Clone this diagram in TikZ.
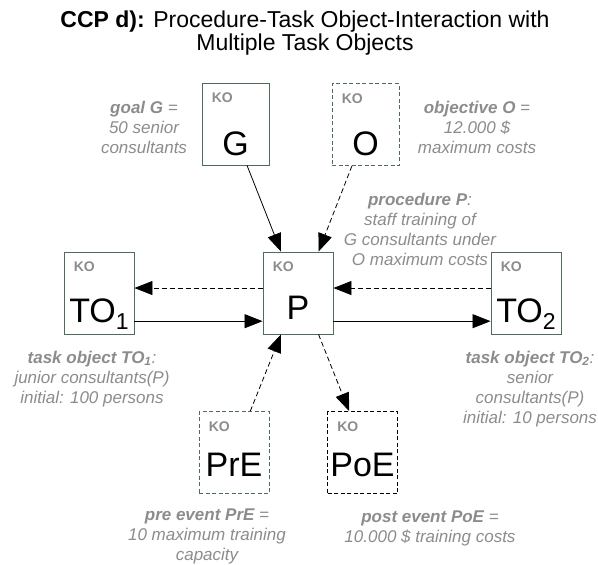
\documentclass[tikz,border=0pt]{standalone}
\usepackage{fontspec}
\setmainfont{Liberation Sans}
\usetikzlibrary{arrows.meta,calc}
\definecolor{kobox}{RGB}{78,108,88}
\definecolor{notegray}{RGB}{140,140,140}

\begin{document}
\begin{tikzpicture}[x=1pt,y=-1pt,
  box/.style={draw=kobox, line width=0.9pt, minimum width=70pt, minimum height=82pt, inner sep=0pt},
  evbox/.style={box, dash pattern=on 4pt off 2.5pt},
  kotag/.style={font=\fontsize{14}{14}\selectfont\bfseries, text=notegray, anchor=base west, inner sep=0pt},
  big/.style={font=\fontsize{34}{34}\selectfont, anchor=base, inner sep=0pt},
  annot/.style={font=\fontsize{17}{20}\selectfont\itshape, text=notegray, align=center, anchor=base, inner sep=0pt},
  flow/.style={-{Triangle[length=18pt,width=14pt]}, line width=0.8pt},
  dflow/.style={flow, dash pattern=on 5pt off 3pt}
]
\useasboundingbox (0,0) rectangle (598,565);

% title (anchored at the baseline of its last line)
\node[font=\fontsize{23}{21}\selectfont, align=center, anchor=base, inner sep=0pt] (title) at (305,50)
  {\textbf{CCP d):} Procedure-Task Object-Interaction with\\Multiple Task Objects};

% object boxes
\node[box, minimum width=67pt] (G) at (235.5,124) {};
\node[evbox, minimum width=67pt] (O) at (365.5,124.5) {};
\node[box] (TO1) at (99,293) {};
\node[box] (P) at (298,293) {};
\node[box] (TO2) at (526,293) {};
\node[evbox] (PrE) at (234,452.5) {};
\node[evbox, draw=black] (PoE) at (362.5,452.5) {};

% KO tags
\node[kotag] (Gk) at ($(G.north west)+(10,20)$) {KO};
\node[kotag] (Ok) at ($(O.north west)+(10,20)$) {KO};
\node[kotag] (TO1k) at ($(TO1.north west)+(10,20)$) {KO};
\node[kotag] (Pk) at ($(P.north west)+(10,20)$) {KO};
\node[kotag] (TO2k) at ($(TO2.north west)+(10,20)$) {KO};
\node[kotag] (PrEk) at ($(PrE.north west)+(10,20)$) {KO};
\node[kotag] (PoEk) at ($(PoE.north west)+(10,20)$) {KO};

% box names
\node[big] (Gt) at ($(G.south)+(0,-10)$) {G};
\node[big] (Ot) at ($(O.south)+(0,-10)$) {O};
\node[big] (TO1t) at ($(TO1.south)+(0,-12)$) {TO\raisebox{-0.22em}{\fontsize{23}{23}\selectfont 1}};
\node[big] (Pt) at ($(P.south)+(0,-15)$) {P};
\node[big] (TO2t) at ($(TO2.south)+(0,-12)$) {TO\raisebox{-0.22em}{\fontsize{23}{23}\selectfont 2}};
\node[big] (PrEt) at ($(PrE.south)+(0,-17)$) {PrE};
\node[big] (PoEt) at ($(PoE.south)+(0,-17)$) {PoE};

% interactions
\draw[flow] ($(G.south west)!0.67!(G.south east)$) -- ($(P.north west)!0.26!(P.north east)$);
\draw[dflow] ($(O.south west)!0.3!(O.south east)$) -- ($(P.north west)!0.79!(P.north east)$);
\draw[dflow] ($(P.north west)!0.44!(P.south west)$) -- ($(TO1.north east)!0.44!(TO1.south east)$);
\draw[flow] ($(TO1.north east)!0.84!(TO1.south east)$) -- ($(P.north west)!0.84!(P.south west)$);
\draw[dflow] ($(TO2.north west)!0.44!(TO2.south west)$) -- ($(P.north east)!0.44!(P.south east)$);
\draw[flow] ($(P.north east)!0.84!(P.south east)$) -- ($(TO2.north west)!0.84!(TO2.south west)$);
\draw[dflow] ($(PrE.north west)!0.73!(PrE.north east)$) -- ($(P.south west)!0.26!(P.south east)$);
\draw[dflow] ($(P.south west)!0.79!(P.south east)$) -- ($(PoE.north west)!0.31!(PoE.north east)$);

% annotations (anchored at the baseline of their last line)
\node[annot] (Gl) at (144,153) {\textbf{goal G} =\\50 senior\\consultants};
\node[annot] (Ol) at (477,153) {\textbf{objective O} =\\12.000 \$\\maximum costs};
\node[annot] (Pl) at (420,265) {\textbf{procedure P}:\\staff training of\\G consultants under\\O maximum costs};
\node[annot] (TO1l) at (92,403) {\textbf{task object TO\textsubscript{1}}:\\junior consultants(P)\\initial: 100 persons};
\node[annot] (TO2l) at (530,423) {\textbf{task object TO\textsubscript{2}}:\\senior\\consultants(P)\\initial: 10 persons};
\node[annot] (PrEl) at (207,560) {\textbf{pre event PrE} =\\10 maximum training\\capacity};
\node[annot] (PoEl) at (430,542) {\textbf{post event PoE} =\\10.000 \$ training costs};
\end{tikzpicture}
\end{document}
